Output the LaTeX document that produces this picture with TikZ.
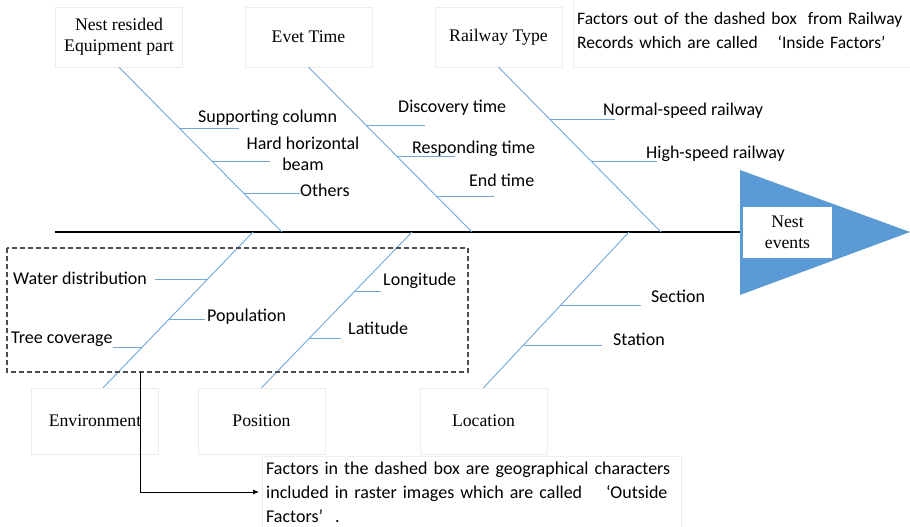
\documentclass[tikz,border=0pt]{standalone}
\usepackage{fontspec}
\setmainfont{Liberation Serif}
\newfontfamily\calib{Carlito}
\usetikzlibrary{arrows.meta}
\definecolor{boneblue}{RGB}{112,168,222}
\definecolor{triblue}{RGB}{91,155,213}
\begin{document}
\begin{tikzpicture}[x=1pt,y=-1pt,
  cat/.style={draw=black!7, fill=white, minimum width=127pt, minimum height=60pt,
    font=\fontsize{17.7}{21}\selectfont, align=center, inner sep=0pt},
  catb/.style={cat, minimum height=66pt},
  note/.style={draw=black!7, fill=white, font=\calib\fontsize{18}{24}\selectfont,
    align=left, inner xsep=4pt, inner ysep=0pt, anchor=west},
  lbl/.style={font=\calib\fontsize{18}{21}\selectfont, inner sep=0pt, anchor=west},
  bone/.style={draw=boneblue, line width=0.9pt},
  spine/.style={draw=black, line width=2.6pt},
  dbox/.style={draw=black!70, line width=1.1pt, dash pattern=on 5pt off 3pt},
  arr/.style={draw=black, line width=0.8pt, -{Latex[length=6pt,width=5pt]}}]
\useasboundingbox (0,0) rectangle (910,527);

% head
\fill[triblue] (740,170) -- (910,232) -- (740,295) -- cycle;
\coordinate (spL) at (55,232);
\coordinate (spR) at (740,232);
\draw[spine] (spL) -- (spR);
\node[fill=white, minimum width=89pt, minimum height=51pt, inner sep=0pt, align=center,
  font=\fontsize{17.7}{21}\selectfont] (head) at (787.5,232.5) {Nest\\events};

% category boxes
\node[cat] (nerp) at (119,37) {Nest resided\\Equipment part};
\node[cat] (evt) at (308.5,37) {Evet Time};
\node[cat] (rwt) at (498.5,37) {Railway Type};
\node[catb] (env) at (95,421) {Environment};
\node[catb] (pos) at (261.5,421) {Position};
\node[catb] (loc) at (483.5,421) {Location};

% notes
\node[note, text width=345pt, minimum height=73pt, font=\calib\fontsize{17.5}{24}\selectfont] (inside) at (573,30.5)
  {Factors out of the dashed box\hspace{5pt} from Railway\\Records which are called\hspace{14pt} ‘Inside Factors’};
\node[note, text width=411pt, minimum height=72pt] (outside) at (262,492)
  {Factors in the dashed box are geographical characters\\included in raster images which are called\ \ \ \ ‘Outside\\Factors’\ \ .};

% spine points
\coordinate (s1) at (282,232);
\coordinate (s2) at (472,232);
\coordinate (s3) at (661,232);
\coordinate (b1) at (253,232);
\coordinate (b2) at (412,232);
\coordinate (b3) at (629,232);

% main bones
\draw[bone] (nerp.south) -- (s1);
\draw[bone] (evt.south) -- (s2);
\draw[bone] (rwt.south) -- (s3);
\draw[bone] ([xshift=8pt]env.north) -- (b1);
\draw[bone] (pos.north) -- (b2);
\draw[bone] (loc.north) -- (b3);

% sub bones
\draw[bone] (179.3,128) -- (239,128);
\draw[bone] (211.9,161) -- (270,161);
\draw[bone] (243.5,193) -- (300,193);
\draw[bone] (366,125) -- (425,125);
\draw[bone] (396.7,156) -- (455,156);
\draw[bone] (436.3,196) -- (494,196);
\draw[bone] (550,119) -- (615,119);
\draw[bone] (591,161) -- (657,161);
\draw[bone] (155,279) -- (207.8,279);
\draw[bone] (169.3,319) -- (205,319);
\draw[bone] (113,347) -- (142.4,347);
\draw[bone] (355,291) -- (381,291);
\draw[bone] (309.7,338) -- (341,338);
\draw[bone] (561,305) -- (641,305);
\draw[bone] (523.6,345) -- (602,345);

% labels
\node[lbl] (l1) at (198,118) {Supporting column};
\node[lbl, anchor=center, align=center] (l2) at (303,154) {Hard horizontal\\beam};
\node[lbl] (l3) at (300,190) {Others};
\node[lbl] (l4) at (398,108) {Discovery time};
\node[lbl] (l5) at (412,149) {Responding time};
\node[lbl] (l6) at (469,180) {End time};
\node[lbl] (l7) at (603,111) {Normal-speed railway};
\node[lbl] (l8) at (646,154) {High-speed railway};
\node[lbl] (l9) at (13,278) {Water distribution};
\node[lbl] (l10) at (207,317) {Population};
\node[lbl] (l11) at (11,339) {Tree coverage};
\node[lbl] (l12) at (383,281) {Longitude};
\node[lbl] (l13) at (348,328) {Latitude};
\node[lbl] (l14) at (651,296) {Section};
\node[lbl] (l15) at (613,339) {Station};

% dashed box and arrow
\draw[dbox] (7,248) rectangle (468,372);
\coordinate (arrS) at (140,372);
\draw[arr, shorten >=3pt] (arrS) |- (outside.west);
\end{tikzpicture}
\end{document}
